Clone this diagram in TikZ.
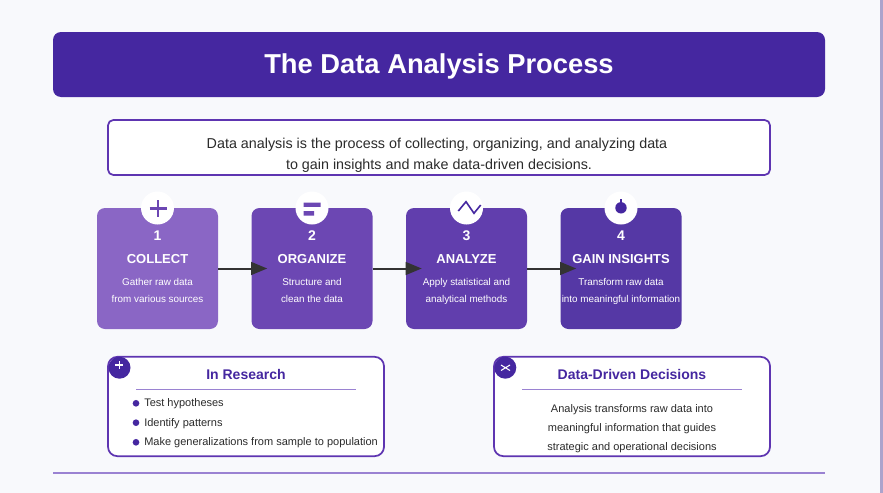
\documentclass[tikz,border=0pt]{standalone}
\usepackage{fontspec}
\setmainfont{Liberation Sans}
\usepackage{xcolor}
\usetikzlibrary{arrows.meta,positioning,calc}
\definecolor{TitleBlue}{HTML}{4527A0}
\definecolor{FrameViolet}{HTML}{5E35B1}
\definecolor{RuleViolet}{HTML}{9A82D2}
\definecolor{PageBack}{HTML}{F8F9FC}
\definecolor{StripLilac}{HTML}{ABA3CC}
\definecolor{BodyGrey}{HTML}{2B2B2B}
\definecolor{CardA}{HTML}{8A66C5}
\definecolor{CardB}{HTML}{6C47B3}
\definecolor{CardC}{HTML}{613EAD}
\definecolor{CardD}{HTML}{5538A5}
\tikzset{
  card/.style={fill=#1, rounded corners=6pt, minimum width=90.75pt, minimum height=90.75pt, inner sep=0pt},
  badge/.style={circle, fill=white, minimum size=24.75pt, inner sep=0pt},
  txt/.style={anchor=base, inner sep=0pt, font=\fontsize{#1}{#1}\selectfont},
  cardtxt/.style={txt=#1, text=white},
  flow/.style={draw=black!80, line width=1.5pt, -{Triangle[length=12pt,width=9.5pt]}, shorten >=-12pt},
  note/.style={draw=FrameViolet, line width=1.3pt, fill=white, rounded corners=7pt, minimum width=207pt, minimum height=74.5pt, inner sep=0pt},
  corner/.style={circle, fill=TitleBlue, minimum size=16.5pt, inner sep=0pt},
  dot/.style={circle, fill=TitleBlue, minimum size=5pt, inner sep=0pt},
  notetitle/.style={txt=10.5, text=TitleBlue},
  notetxt/.style={txt=8.25, text=BodyGrey},
  listtxt/.style={notetxt, anchor=base west}
}
\begin{document}
\begin{tikzpicture}[x=0.75pt, y=-0.75pt]
  \useasboundingbox[fill=PageBack] (0,0) rectangle (883,493);
  \fill[StripLilac] (880,0) rectangle (883,493);

  % banner and intro
  \node[fill=TitleBlue, rounded corners=6pt, minimum width=579pt, minimum height=48.75pt, inner sep=0pt] (banner) at (439,64.5) {};
  \node[txt=20.5, text=white] (heading) at (439,73) {\bfseries The Data Analysis Process};
  \node[draw=FrameViolet, line width=1.3pt, fill=white, rounded corners=4pt, minimum width=496.5pt, minimum height=41.25pt, inner sep=0pt] (intro) at (439,147.5) {};
  \node[txt=10.75, text=BodyGrey] (introa) at (437,148) {Data analysis is the process of collecting, organizing, and analyzing data};
  \node[txt=10.75, text=BodyGrey] (introb) at (439,169) {to gain insights and make data-driven decisions.};

  % the four steps
  \foreach \name/\cx/\col/\num/\ttl/\la/\lb in {
    collect/157.5/CardA/1/COLLECT/Gather raw data/from various sources,
    organize/312/CardB/2/ORGANIZE/Structure and/clean the data,
    analyze/466.5/CardC/3/ANALYZE/Apply statistical and/analytical methods,
    insights/621/CardD/4/GAIN INSIGHTS/Transform raw data/into meaningful information}{
    \node[card=\col] (\name) at (\cx,268.5) {};
    \node[badge] (\name badge) at (\cx,208) {};
    \node[cardtxt=10.5] (\name num) at (\cx,240.7) {\bfseries\num};
    \node[cardtxt=9.75] (\name ttl) at (\cx,263) {\bfseries\ttl};
    \node[cardtxt=7.4] (\name a) at (\cx,285) {\la};
    \node[cardtxt=7.4] (\name b) at (\cx,302) {\lb};
  }
  \draw[flow] (collect) -- (organize);
  \draw[flow] (organize) -- (analyze);
  \draw[flow] (analyze) -- (insights);

  % icons
  \draw[CardB, line width=1.6pt] (149.5,208.5) -- (166.5,208.5) (158,200) -- (158,217);
  \fill[CardB] (303.5,202.5) rectangle (320.5,206.8) (303.5,211.2) rectangle (314,215.6);
  \draw[TitleBlue, line width=1.2pt] (458.3,211) -- (466,201.7) -- (474,213.3) -- (480.7,205);
  \fill[TitleBlue] (621,207.8) circle[radius=5.7];
  \draw[TitleBlue, line width=1.9pt] (621,199.3) -- (621,204);

  % bottom notes
  \node[note] (research) at (246,406.5) {};
  \node[corner] (researchmark) at (119.5,367.7) {};
  \draw[white, line width=0.8pt] (115,365) -- (123.4,365) (119.2,361) -- (119.2,369.3);
  \node[notetitle] (researchttl) at (246,379) {\bfseries In Research};
  \draw[RuleViolet, line width=1pt] (136,389.5) -- (356,389.5);
  \node[dot] (dota) at (136,403.3) {};
  \node[dot] (dotb) at (136,422.7) {};
  \node[dot] (dotc) at (136,442.3) {};
  \node[listtxt] (lista) at (144,406) {Test hypotheses};
  \node[listtxt] (listb) at (144,426) {Identify patterns};
  \node[listtxt] (listc) at (144,445) {Make generalizations from sample to population};

  \node[note] (decisions) at (632,406.5) {};
  \node[corner] (decisionsmark) at (505.3,367.7) {};
  \draw[white, line width=0.8pt] (501,365) -- (510,370.5) (501,370.5) -- (510,365);
  \node[notetitle] (decisionsttl) at (632,379) {\bfseries Data-Driven Decisions};
  \draw[RuleViolet, line width=1pt] (522,389.5) -- (742,389.5);
  \node[notetxt] (bodya) at (632,412) {Analysis transforms raw data into};
  \node[notetxt] (bodyb) at (632,431) {meaningful information that guides};
  \node[notetxt] (bodyc) at (632,450) {strategic and operational decisions};

  \draw[RuleViolet, line width=1pt] (53,473) -- (825,473);
\end{tikzpicture}
\end{document}
